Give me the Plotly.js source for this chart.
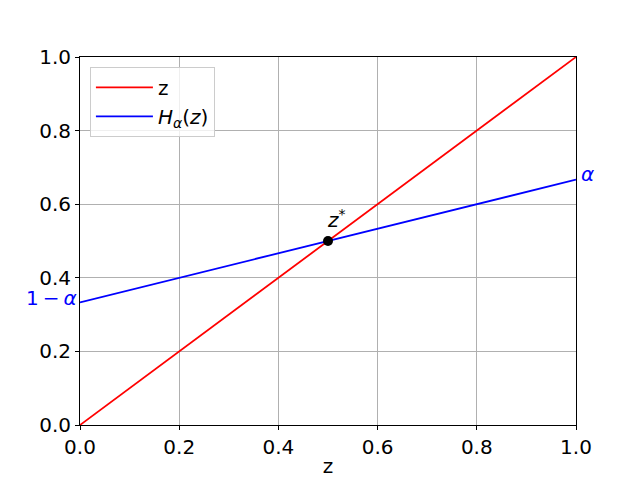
<!DOCTYPE html>
<html>
<head>
<meta charset="utf-8">
<script src="https://cdn.plot.ly/plotly-3.0.1.min.js"></script>
<style>html,body{margin:0;padding:0;background:#fff;}#chart{width:640px;height:478px;}</style>
</head>
<body>
<div id="chart"></div>
<script>
const xs = [0, 1];
const zVals = [0, 1];
const hVals = [1/3, 2/3];
const starX = [0.5];
const starY = [0.5];

const font = {family: 'DejaVu Sans', size: 20, color: '#000'};

const traces = [
  {x: xs, y: zVals, mode: 'lines', name: 'z', line: {color: '#ff0000', width: 1.8}},
  {x: xs, y: hVals, mode: 'lines', name: '<i>H</i><sub><i>α</i></sub>(<i>z</i>)', line: {color: '#0000ff', width: 1.8}},
  {x: starX, y: starY, mode: 'markers', showlegend: false, marker: {color: '#000', size: 10}}
];

const axisCommon = {
  range: [0, 1], dtick: 0.2, tickformat: '.1f',
  showgrid: true, gridcolor: '#b0b0b0', gridwidth: 1,
  showline: true, linecolor: '#000', linewidth: 1, mirror: true,
  ticks: 'outside', ticklen: 4, tickcolor: '#000',
  zeroline: false, tickfont: font
};

const layout = {
  width: 640, height: 478,
  margin: {l: 80, r: 64, t: 57, b: 53},
  paper_bgcolor: '#fff', plot_bgcolor: '#fff',
  font: font,
  xaxis: Object.assign({}, axisCommon, {title: {text: 'z', font: font, standoff: 6}}),
  yaxis: Object.assign({}, axisCommon),
  showlegend: true,
  legend: {x: 0.02, y: 0.973, xanchor: 'left', yanchor: 'top',
    bgcolor: 'rgba(255,255,255,0.8)', bordercolor: '#cccccc', borderwidth: 1,
    itemwidth: 57,
    font: {family: 'DejaVu Sans', size: 20, color: '#000'}},
  annotations: [
    {x: 0.5, y: 0.5, xref: 'x', yref: 'y', text: '<i>z</i><sup>*</sup>', showarrow: false,
      xanchor: 'left', yanchor: 'bottom', yshift: 7, xshift: -3, font: {family: 'DejaVu Sans', size: 20, color: '#000'}},
    {x: 1, y: hVals[1], xref: 'x', yref: 'y', text: '<i>α</i>', showarrow: false,
      xanchor: 'left', yanchor: 'middle', xshift: 3, yshift: 6, font: {family: 'DejaVu Sans', size: 20, color: '#0000ff'}},
    {x: 0, y: hVals[0], xref: 'x', yref: 'y', text: '1\u2009−\u2009<i>α</i>', showarrow: false,
      xanchor: 'right', yanchor: 'middle', xshift: -1, yshift: 4, font: {family: 'DejaVu Sans', size: 20, color: '#0000ff'}}
  ]
};

Plotly.newPlot('chart', traces, layout, {displayModeBar: false, staticPlot: true});
</script>
</body>
</html>
